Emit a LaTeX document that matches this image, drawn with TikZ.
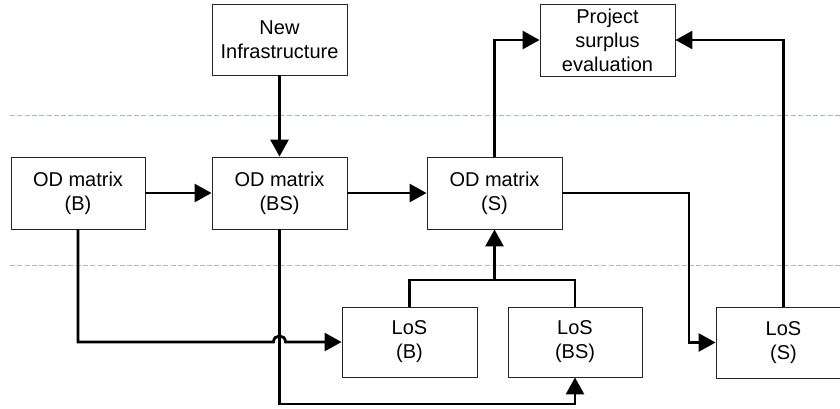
\documentclass[tikz,border=0pt]{standalone}
\usepackage{fontspec}
\setmainfont{Liberation Sans}
\usetikzlibrary{arrows.meta,calc}
\definecolor{dashblue}{RGB}{160,186,228}
\begin{document}
\begin{tikzpicture}[x=1pt,y=-1pt,
  box/.style={draw=black!85,line width=0.9pt,fill=white,inner sep=0pt,align=center,
    minimum width=135pt,minimum height=72pt,font=\fontsize{20pt}{24pt}\selectfont},
  conn/.style={line width=2.8pt,line join=miter},
  arr/.style={conn,-{Triangle[length=17pt,width=18pt]}},
  sep/.style={dashblue,line width=1.4pt,dash pattern=on 5pt off 2.3pt}]
\useasboundingbox (0,0) rectangle (840,408);
\clip (0,0) rectangle (840,408);
\fill[white] (0,0) rectangle (840,408);
% separators
\coordinate (s1a) at (10,115.5); \coordinate (s1b) at (840,115.5);
\coordinate (s2a) at (10,265.7); \coordinate (s2b) at (840,265.7);
\draw[sep] (s1a) -- (s1b);
\draw[sep] (s2a) -- (s2b);
% nodes
\node[box,minimum height=71pt] (newinf) at (279.5,39.5) {New\\Infrastructure};
\node[box] (proj) at (607.5,40) {Project\\surplus\\evaluation};
\node[box,minimum width=134pt] (odb) at (78,193) {OD matrix\\(B)};
\node[box] (odbs) at (279.5,193) {OD matrix\\(BS)};
\node[box] (ods) at (494.5,193) {OD matrix\\(S)};
\node[box,minimum height=70pt] (losb) at (409.5,342) {LoS\\(B)};
\node[box,minimum width=134pt,minimum height=70pt] (losbs) at (575,342) {LoS\\(BS)};
\node[box,minimum height=71pt] (loss) at (783.5,342.5) {LoS\\(S)};
% helper coordinates
\coordinate (j) at (494.5,280);
\coordinate (k) at (689,0);
\coordinate (m) at (400,404);
% connectors
\draw[arr] (newinf.south) -- (odbs.north);
\draw[arr] (odb.east) -- (odbs.west);
\draw[arr] (odbs.east) -- (ods.west);
\draw[arr] (ods.north) |- (proj.west);
\draw[arr] (loss.north) |- (proj.east);
\draw[arr] (ods.east) -| (k |- loss.west) -- (loss.west);
\draw[conn] (losb.north) |- (j) -| (losbs.north);
\draw[arr] (j) -- (ods.south);
\draw[arr] (odb.south) -- (odb.south |- losb.west)
  -- ([xshift=-6pt]odbs.south |- losb.west)
  .. controls +(0,-8) and +(0,-8) .. ([xshift=6pt]odbs.south |- losb.west)
  -- (losb.west);
\draw[arr] (odbs.south) |- (m) -| (losbs.south);
\end{tikzpicture}
\end{document}
